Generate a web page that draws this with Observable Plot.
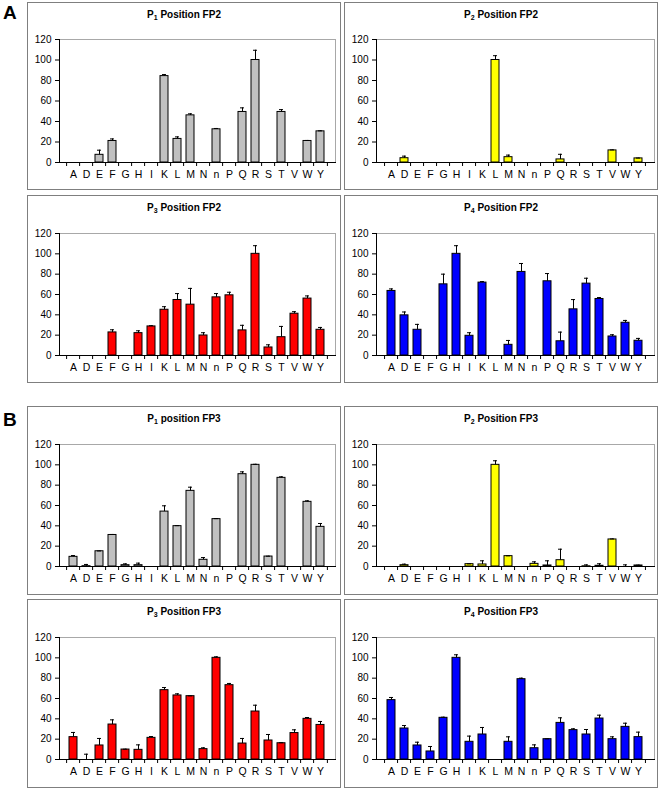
<!DOCTYPE html>
<html><head><meta charset="utf-8">
<script src="https://cdn.jsdelivr.net/npm/d3@7"></script>
<script src="https://cdn.jsdelivr.net/npm/@observablehq/plot@0.6"></script>
<style>
body{margin:0;background:#fff;}
#root{position:relative;width:661px;height:789px;font-family:"Liberation Sans",Arial,sans-serif;background:#fff;}
.panel{position:absolute;box-sizing:border-box;border:1px solid #7f7f7f;background:#fff;}
.panel svg{position:absolute;left:0;top:0;}
.ptitle{position:absolute;left:0;right:0;text-align:center;font-weight:bold;font-size:10px;line-height:12px;z-index:2;}
.ptitle sub{font-size:7px;vertical-align:-2px;line-height:0;}
.glabel{position:absolute;font-weight:bold;font-size:19px;line-height:1;}
</style></head><body><div id="root"></div>
<script>
const categories = ["A","D","E","F","G","H","I","K","L","M","N","n","P","Q","R","S","T","V","W","Y"];
const yTicks = [0,20,40,60,80,100,120];

const fp2P1 = [0,0,7.5,21,0,0,0,84.3,23,46,0,32.4,0,49.3,100,0,49.3,0,21,30.4];
const fp2P1Err = [0,0,4.5,2,0,0,0,1.5,2,1.5,0,0.8,0,4,9.5,0,2.3,0,0.5,0.5];
const fp2P2 = [0,4.2,0,0,0,0,0,0,100,5.2,0,0,0,3,0,0,0,11.8,0,4];
const fp2P2Err = [0,2,0,0,0,0,0,0,4.2,2,0,0,0,5,0,0,0,0.5,0,0.3];
const fp2P3 = [0,0,0,22.7,0,22,28.6,45,54.6,50,19.7,57.2,59.2,24.7,100,7.9,18,41.1,56,25.3];
const fp2P3Err = [0,0,0,2.6,0,2.3,0.7,3,6.3,16,2.7,3.7,3,5,8,2.6,10.6,2,2.6,2.3];
const fp2P4 = [63.5,39.5,25.3,0,70,100,19.4,71.7,0,10.5,82.2,0,73,14,45.4,70.7,55.6,18.7,32.2,14.5];
const fp2P4Err = [2,3.3,5.3,0,10,8,3,1,0,4.3,8.3,0,7.6,9,9.6,5.3,1.4,1.7,2.3,2.3];

const fp3P1 = [9.5,0.3,15,31,1.3,1.3,0,54,39.7,74.4,6.6,46.6,0,90.8,100,9.8,87.2,0,63.6,39];
const fp3P1Err = [1.3,1.7,0.3,0.5,1.3,2,0,5.7,0.5,3.6,2.2,0.5,0,2.3,0.5,0.3,1,0,1,3.3];
const fp3P2 = [0,1.3,0,0,0,0,2.3,2,100,10.2,0,2.6,1,6.2,0,0.2,0.7,26.6,0,1];
const fp3P2Err = [0,1,0,0,0,0,0.3,3.6,4,0.3,0,2,4.6,10.8,0,1.4,2,0.5,1.6,0.3];
const fp3P3 = [22,0,13.8,34.4,9.8,9.5,21.3,68.2,63,62.3,10.2,100,73.1,15.7,47.2,18.7,16,26,40,34];
const fp3P3Err = [4.6,5.2,6.9,4.6,0.3,4.9,1.3,2.6,1.6,0.3,1.3,1,1.7,5,6.2,5.9,0.5,3.2,1.3,3.4];
const fp3P4 = [58.4,30.5,13.8,7.9,41,100,17.4,24.6,0,17.4,79,11.1,20,36,28.9,24.6,40.3,20,32.1,22];
const fp3P4Err = [2.6,2.9,3.2,4.9,0.6,3,5.6,6.9,0,4.9,1,3.3,0.3,5,1.3,4.9,3.3,2.3,3.6,4.9];

const panelColors = ["#c0c0c0","#ffff00","#ff0000","#0000ff"];
const groupLabels = ["A","B"];
const panels = [
  {sub:"1", title:" Position FP2", values:fp2P1, err:fp2P1Err, color:0, col:0, row:0},
  {sub:"2", title:" Position FP2", values:fp2P2, err:fp2P2Err, color:1, col:1, row:0},
  {sub:"3", title:" Position FP2", values:fp2P3, err:fp2P3Err, color:2, col:0, row:1},
  {sub:"4", title:" Position FP2", values:fp2P4, err:fp2P4Err, color:3, col:1, row:1},
  {sub:"1", title:" position FP3", values:fp3P1, err:fp3P1Err, color:0, col:0, row:2},
  {sub:"2", title:" Position FP3", values:fp3P2, err:fp3P2Err, color:1, col:1, row:2},
  {sub:"3", title:" Position FP3", values:fp3P3, err:fp3P3Err, color:2, col:0, row:3},
  {sub:"4", title:" Position FP3", values:fp3P4, err:fp3P4Err, color:3, col:1, row:3}
];

const colLeft = [27, 344], panelW = 314;
const rowTop = [2, 195, 406, 599], rowH = [188, 188, 189, 189];
const mTop = [36, 37, 37, 37], mBottom = [27, 27, 28, 28];
const mLeft = 31, mRight = [5, 3];

const root = document.getElementById("root");
[[groupLabels[0], 3, 2.5], [groupLabels[1], 3, 409.5]].forEach(([t, x, y]) => {
  const d = document.createElement("div");
  d.className = "glabel"; d.textContent = t;
  d.style.left = x + "px"; d.style.top = y + "px";
  root.appendChild(d);
});

panels.forEach(p => {
  const div = document.createElement("div");
  div.className = "panel";
  div.style.left = colLeft[p.col] + "px";
  div.style.top = rowTop[p.row] + "px";
  div.style.width = panelW + "px";
  div.style.height = rowH[p.row] + "px";
  const t = document.createElement("div");
  t.className = "ptitle";
  t.style.top = "6px";
  t.innerHTML = "P<sub>" + p.sub + "</sub>" + p.title;
  div.appendChild(t);

  const W = panelW - 2, H = rowH[p.row] - 2;
  const mr = mRight[p.col];
  const step = (W - mLeft - mr) / categories.length;
  const data = categories.map((c, i) => ({c, v: p.values[i], e: p.err[i]}));
  const fill = panelColors[p.color];
  const svg = Plot.plot({
    width: W, height: H,
    marginTop: mTop[p.row], marginBottom: mBottom[p.row], marginLeft: mLeft, marginRight: mr,
    style: {fontFamily: "'Liberation Sans', Arial, sans-serif", fontSize: "10px", color: "black", background: "white", overflow: "visible"},
    x: {domain: categories, paddingInner: 0.35, paddingOuter: 0.175, axis: null},
    y: {domain: [0, 120], axis: null},
    marks: [
      Plot.frame({anchor: "top", stroke: "#a8a8a8"}),
      Plot.frame({anchor: "right", stroke: "#a8a8a8"}),
      Plot.barY(data.filter(d => d.v > 0), {x: "c", y: "v", fill, stroke: "black", strokeWidth: 1}),
      Plot.ruleX(data.filter(d => d.e > 0), {x: "c", y1: "v", y2: d => d.v + d.e, stroke: "black", strokeWidth: 1}),
      Plot.tickY(data.filter(d => d.e > 0), {x: "c", y: d => d.v + d.e, stroke: "black", strokeWidth: 1, insetLeft: 2, insetRight: 2}),
      Plot.frame({anchor: "bottom", stroke: "black"}),
      Plot.frame({anchor: "left", stroke: "black"}),
      Plot.axisY({ticks: yTicks, tickSize: 4, tickPadding: 4, label: null, fontSize: 10}),
      Plot.axisX({tickSize: 4, tickFormat: () => "", dx: -step / 2, label: null}),
      Plot.axisX({ticks: [categories[categories.length - 1]], tickSize: 4, tickFormat: () => "", dx: step / 2, label: null}),
      Plot.axisX({tickSize: 0, tickPadding: 8, label: null, fontSize: 10.5})
    ]
  });
  div.appendChild(svg);
  root.appendChild(div);
});
</script>
</body></html>
